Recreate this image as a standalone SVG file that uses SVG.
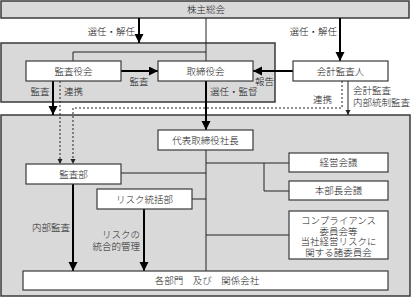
<svg xmlns="http://www.w3.org/2000/svg" width="411" height="297" viewBox="0 0 411 297">
<style>
  .region { fill: #d9d9d9; stroke: #3a3a3a; stroke-width: 1.5; }
  .box { fill: #ffffff; stroke: #3a3a3a; stroke-width: 1.2; }
  text { font-family: "Liberation Serif", "Noto Sans CJK JP", serif; font-size: 9.5px; font-weight: 300; fill: #222; }
  .c { text-anchor: middle; }
  .e { text-anchor: end; }
  .thick { stroke: #000; stroke-width: 2; fill: none; }
  .thin { stroke: #222; stroke-width: 1; fill: none; }
  .dash { stroke: #222; stroke-width: 1; fill: none; stroke-dasharray: 2 2; }
</style>
<defs>
  <marker id="big" markerUnits="userSpaceOnUse" markerWidth="10" markerHeight="10" refX="9" refY="4.5" orient="auto">
    <path d="M0,0 L9,4.5 L0,9 z" fill="#000"/>
  </marker>
  <marker id="small" markerUnits="userSpaceOnUse" markerWidth="6" markerHeight="6" refX="5" refY="2.5" orient="auto">
    <path d="M0,0 L5,2.5 L0,5 z" fill="#222"/>
  </marker>
</defs>

<g id="regions">
  <rect class="region" x="1" y="1" width="408" height="17"/>
  <rect class="region" x="1" y="43" width="274" height="59"/>
  <rect class="region" x="1" y="115" width="409" height="181"/>
</g>

<g id="connectors">
  <line class="thick" x1="139" y1="18" x2="139" y2="43" marker-end="url(#big)"/>
  <line class="thick" x1="340" y1="18" x2="340" y2="61" marker-end="url(#big)"/>
  <polyline class="thin" points="206,18 206,61"/>
  <polyline class="thin" points="206,52 73,52 73,61"/>
  <line class="thick" x1="121" y1="71" x2="158" y2="71" marker-end="url(#big)"/>
  <line class="thick" x1="293" y1="71" x2="253" y2="71" marker-end="url(#big)"/>
  <line class="thick" x1="206" y1="81" x2="206" y2="130" marker-end="url(#big)"/>
  <line class="thick" x1="53" y1="81" x2="53" y2="115" marker-end="url(#big)"/>
  <line class="dash" x1="60" y1="81" x2="60" y2="164" marker-end="url(#small)"/>
  <polyline class="dash" points="342,81 342,108 73,108 73,164" marker-end="url(#small)"/>
  <line class="thin" x1="348" y1="81" x2="348" y2="115" marker-end="url(#small)"/>
  <line class="thin" x1="206" y1="150" x2="206" y2="271"/>
  <line class="thin" x1="121" y1="173" x2="206" y2="173"/>
  <line class="thin" x1="192" y1="199" x2="206" y2="199"/>
  <line class="thin" x1="206" y1="163" x2="289" y2="163"/>
  <polyline class="thin" points="264,163 264,191 289,191"/>
  <line class="thin" x1="206" y1="235" x2="289" y2="235"/>
  <line class="thick" x1="73" y1="184" x2="73" y2="271" marker-end="url(#big)"/>
  <line class="thick" x1="144" y1="209" x2="144" y2="271" marker-end="url(#big)"/>
</g>

<g id="labels">
  <text class="e" x="135" y="35">選任・解任</text>
  <text class="e" x="337" y="35">選任・解任</text>
  <text class="c" x="139" y="85">監査</text>
  <text x="255" y="85">報告</text>
  <text x="210" y="95">選任・監督</text>
  <text class="c" x="40" y="95">監査</text>
  <text x="64" y="95">連携</text>
  <text class="e" x="332" y="103">連携</text>
  <text x="353" y="94">会計監査</text>
  <text x="353" y="106">内部統制監査</text>
  <text class="e" x="70" y="231">内部監査</text>
  <text class="e" x="140" y="238">リスクの</text>
  <text class="e" x="140" y="250">統合的管理</text>
</g>

<g id="node-shareholders">
  <text class="c" x="206" y="13">株主総会</text>
</g>
<g id="node-kansayakukai">
  <rect class="box" x="26" y="61" width="95" height="20"/>
  <text class="c" x="73.5" y="74.5">監査役会</text>
</g>
<g id="node-torishimariyakukai">
  <rect class="box" x="158" y="61" width="95" height="20"/>
  <text class="c" x="205.5" y="74.5">取締役会</text>
</g>
<g id="node-kaikeikansanin">
  <rect class="box" x="293" y="61" width="95" height="20"/>
  <text class="c" x="340.5" y="74.5">会計監査人</text>
</g>
<g id="node-president">
  <rect class="box" x="158" y="130" width="95" height="20"/>
  <text class="c" x="205.5" y="143.5">代表取締役社長</text>
</g>
<g id="node-kansabu">
  <rect class="box" x="26" y="164" width="95" height="20"/>
  <text class="c" x="73.5" y="177.5">監査部</text>
</g>
<g id="node-risk">
  <rect class="box" x="97" y="189" width="95" height="20"/>
  <text class="c" x="144.5" y="202.5">リスク統括部</text>
</g>
<g id="node-keieikaigi">
  <rect class="box" x="289" y="153" width="99" height="19"/>
  <text class="c" x="338.5" y="166">経営会議</text>
</g>
<g id="node-honbuchokaigi">
  <rect class="box" x="289" y="181" width="99" height="19"/>
  <text class="c" x="338.5" y="194">本部長会議</text>
</g>
<g id="node-compliance">
  <rect class="box" x="289" y="211" width="99" height="48"/>
  <text class="c" x="338.5" y="223.5">コンプライアンス</text>
  <text class="c" x="338.5" y="234.5">委員会等</text>
  <text class="c" x="338.5" y="245">当社経営リスクに</text>
  <text class="c" x="338.5" y="255.5">関する諸委員会</text>
</g>
<g id="node-departments">
  <rect class="box" x="23" y="271" width="365" height="19"/>
  <text class="c" x="207" y="284">各部門　及び　関係会社</text>
</g>
</svg>
